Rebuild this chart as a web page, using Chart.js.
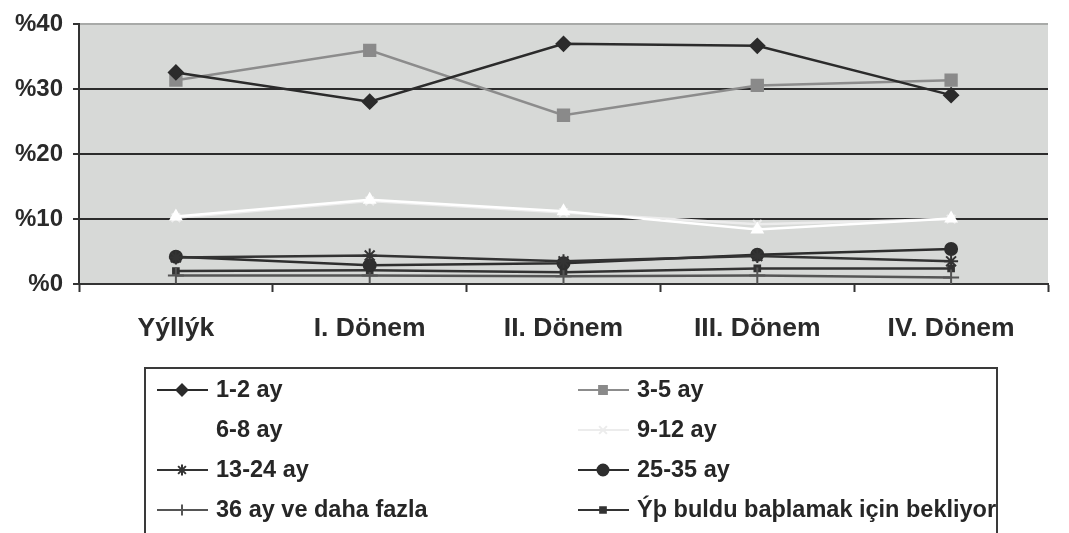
<!DOCTYPE html>
<html>
<head>
<meta charset="utf-8">
<script src="https://cdn.jsdelivr.net/npm/chart.js@4.4.1/dist/chart.umd.min.js"></script>
<style>
    html, body { margin: 0; padding: 0; background: #ffffff; }
    #wrap { width: 1069px; height: 533px; }
</style>
</head>
<body>
<div id="wrap"><canvas id="chart" width="1069" height="533"></canvas></div>
<script>
const categories = ["Yýllýk", "I. Dönem", "II. Dönem", "III. Dönem", "IV. Dönem"];

const seriesNames = [
    "1-2 ay", "3-5 ay",
    "6-8 ay", "9-12 ay",
    "13-24 ay", "25-35 ay",
    "36 ay ve daha fazla", "Ýþ buldu baþlamak için bekliyor"
];

const ay1_2 = [32.6, 28.1, 37.0, 36.7, 29.1];
const ay3_5 = [31.4, 36.0, 26.0, 30.6, 31.4];
const ay6_8 = [10.4, 13.0, 11.2, 8.4, 10.1];
const ay9_12 = [10.2, 12.8, 11.0, 9.2, 10.0];
const ay13_24 = [4.1, 4.4, 3.5, 4.3, 3.5];
const ay25_35 = [4.2, 2.9, 3.2, 4.5, 5.4];
const ay36plus = [1.3, 1.3, 1.2, 1.3, 1.0];
const isBuldu = [2.0, 2.1, 1.8, 2.4, 2.4];

const yTicks = [0, 10, 20, 30, 40];

const FONT = "'Liberation Sans', Arial, sans-serif";

function makeSet(label, data, color, style, radius, fill, width) {
    return {
        label: label,
        data: data,
        borderColor: color,
        borderWidth: width || 2.5,
        pointStyle: style,
        pointRadius: radius,
        pointBackgroundColor: fill || color,
        pointBorderColor: fill || color,
        pointBorderWidth: 2,
        tension: 0
    };
}

const datasets = [
    makeSet(seriesNames[0], ay1_2, "#2b2b2b", "rectRot", 7),
    makeSet(seriesNames[1], ay3_5, "#8c8c8c", "rect", 8, "#8a8a8a"),
    makeSet(seriesNames[2], ay6_8, "#ffffff", "triangle", 6),
    makeSet(seriesNames[3], ay9_12, "#ececec", "crossRot", 6),
    makeSet(seriesNames[4], ay13_24, "#333333", "star", 7),
    makeSet(seriesNames[5], ay25_35, "#2e2e2e", "circle", 6),
    makeSet(seriesNames[6], ay36plus, "#555555", "cross", 8),
    makeSet(seriesNames[7], isBuldu, "#333333", "rect", 4)
];

// grey plot area
const plotBg = {
    id: "plotBg",
    beforeDraw(chart) {
        const a = chart.chartArea;
        const ctx = chart.ctx;
        ctx.save();
        ctx.fillStyle = "#d7d9d7";
        ctx.fillRect(a.left, a.top, a.right - a.left, a.bottom - a.top);
        ctx.restore();
    }
};

// two-column boxed legend under the chart
const boxLegend = {
    id: "boxLegend",
    afterDraw(chart) {
        const ctx = chart.ctx;
        const box = { left: 145, top: 368, right: 997, bottom: 545 };
        ctx.save();
        ctx.strokeStyle = "#3a3a3a";
        ctx.lineWidth = 2;
        ctx.strokeRect(box.left, box.top, box.right - box.left, box.bottom - box.top);

        ctx.beginPath();
        ctx.rect(box.left, box.top, box.right - box.left - 1, box.bottom - box.top);
        ctx.clip();

        chart.data.datasets.forEach((ds, i) => {
            const col = i % 2;
            const row = Math.floor(i / 2);
            const x0 = col === 0 ? 157 : 578;
            const y = 390 + row * 40;

            ctx.strokeStyle = ds.borderColor;
            ctx.lineWidth = 2;
            ctx.beginPath();
            ctx.moveTo(x0, y);
            ctx.lineTo(x0 + 51, y);
            ctx.stroke();

            ctx.fillStyle = ds.pointBackgroundColor;
            ctx.strokeStyle = ds.pointBorderColor;
            Chart.helpers.drawPoint(ctx, {
                pointStyle: ds.pointStyle,
                radius: Math.min(ds.pointRadius, 5.5),
                rotation: 0,
                borderWidth: 2
            }, x0 + 25, y);

            ctx.fillStyle = "#262626";
            ctx.font = "bold 23.5px " + FONT;
            ctx.textBaseline = "middle";
            ctx.textAlign = "left";
            ctx.fillText(ds.label, x0 + 59, y + 1);
        });
        ctx.restore();
    }
};

new Chart(document.getElementById("chart"), {
    type: "line",
    data: {
        labels: categories,
        datasets: datasets
    },
    options: {
        responsive: false,
        animation: false,
        layout: {
            padding: { top: 19, right: 21, left: 0, bottom: 189 }
        },
        scales: {
            x: {
                offset: true,
                grid: {
                    offset: true,
                    drawOnChartArea: false,
                    drawTicks: true,
                    tickLength: 8,
                    tickWidth: 2,
                    tickColor: "#333333"
                },
                border: { display: true, color: "#333333", width: 2 },
                ticks: {
                    color: "#2a2a2a",
                    padding: 21,
                    font: { family: FONT, size: 26.5, weight: "bold" }
                },
                afterFit(scale) { scale.height = 60; }
            },
            y: {
                min: 0,
                max: 40,
                afterBuildTicks(scale) {
                    scale.ticks = yTicks.map(v => ({ value: v }));
                },
                grid: {
                    color: ctx => ctx.tick && ctx.tick.value === 40 ? "#a8aaa8" : "#2c2c2c",
                    lineWidth: 2,
                    drawTicks: true,
                    tickLength: 6,
                    tickColor: "#333333"
                },
                border: { display: true, color: "#333333", width: 2 },
                ticks: {
                    color: "#2a2a2a",
                    padding: 10,
                    font: { family: FONT, size: 24, weight: "bold" },
                    callback: v => "%" + v
                },
                afterFit(scale) { scale.width = 79; }
            }
        },
        plugins: {
            legend: { display: false },
            tooltip: { enabled: false }
        }
    },
    plugins: [plotBg, boxLegend]
});
</script>
</body>
</html>
